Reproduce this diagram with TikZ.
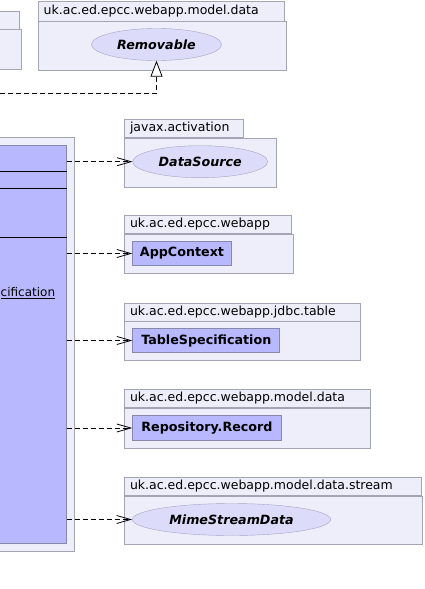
\documentclass[tikz,border=0pt]{standalone}
\usepackage{fontspec}
\setmainfont{DejaVu Sans}
\usepackage{tikz}
\usetikzlibrary{shapes.geometric,arrows.meta,positioning}

\definecolor{pkgfill}{HTML}{EEEEFB}
\definecolor{pkgline}{HTML}{A4A4B4}
\definecolor{clsfill}{HTML}{B8B8FF}
\definecolor{clsline}{HTML}{8888AC}
\definecolor{ifcfill}{HTML}{DCDCFA}
\definecolor{ifcline}{HTML}{A4A4C4}

\begin{document}
\begin{tikzpicture}[x=1pt, y=-1pt,
      pkgtab/.style  = {rectangle, draw=pkgline, fill=pkgfill, anchor=north west,
                        minimum height=18pt, inner xsep=5.5pt, inner ysep=0pt,
                        align=left, font=\fontsize{12.5}{14}\selectfont},
      pkgbody/.style = {rectangle, draw=pkgline, fill=pkgfill, anchor=north west,
                        inner sep=0pt},
      cls/.style     = {rectangle, draw=clsline, fill=clsfill, line width=1pt,
                        minimum height=23.4pt, inner sep=0pt,
                        font=\fontsize{12.7}{14}\selectfont\bfseries},
      ifc/.style     = {ellipse, draw=ifcline, fill=ifcfill, minimum height=32pt,
                        inner sep=0pt, font=\fontsize{12.7}{14}\selectfont\bfseries\itshape},
      attr/.style    = {anchor=base west, inner sep=0pt,
                        font=\fontsize{12}{14}\selectfont},
      sepline/.style = {black, line width=0.9pt},
      dep/.style     = {dash pattern=on 5pt off 3pt, line width=0.8pt,
                        -{Straight Barb[length=14pt,width=8pt]}},
      realize/.style = {dash pattern=on 5pt off 3pt, line width=0.8pt,
                        -{Triangle[open,length=16pt,width=12pt,fill=white]}}
    ]
    \useasboundingbox (0,0) rectangle (424,589);
    \clip (0,0) rectangle (424,589);

    % packages on the top row
    \node[pkgtab, minimum width=29pt, text width=18pt]   (lefttab)  at (-10,11) {};
    \node[pkgbody, minimum width=30.7pt, minimum height=40pt] (leftbody) at (lefttab.south west) {};

    \node[pkgtab, minimum height=19.7pt, text width=235pt] (remtab) at (38,1) {uk.ac.ed.epcc.webapp.model.data};
    \node[pkgbody, minimum width=247.7pt, minimum height=48.6pt] (rembody) at (remtab.south west) {};
    \node[ifc, minimum width=130pt] (remov) at (156.5,44.5) {Removable};

    % the class and its package
    \node[pkgbody, anchor=north east, minimum width=84.3pt, minimum height=414.3pt] (clspkg) at (74.3,136.7) {};
    \node[cls, anchor=north east, minimum width=76.7pt, minimum height=398.3pt] (main) at (66.7,145) {};
    \foreach \sy in {171.3,188.3,237.3}
      \draw[sepline] (main.west |- 0,\sy) -- (main.east |- 0,\sy);
    \node[attr] (tblattr) at (0.5,296.7) {\underline{cification}};

    % packages on the right
    \node[pkgtab, text width=107.4pt] (acttab) at (124.3,119.3) {javax.activation};
    \node[pkgbody, minimum width=151.4pt, minimum height=49.3pt] (actbody) at (acttab.south west) {};
    \node[ifc, minimum width=135pt] (dsrc) at (200.2,161.7) {DataSource};

    \node[pkgtab, text width=155.4pt] (apptab) at (124.3,215.3) {uk.ac.ed.epcc.webapp};
    \node[pkgbody, minimum width=168.4pt, minimum height=39pt] (appbody) at (apptab.south west) {};
    \node[cls, anchor=north west, minimum width=98.4pt] (appctx) at (132.3,241.3) {AppContext};

    \node[pkgtab, text width=225pt] (jdbctab) at (124.3,302.7) {uk.ac.ed.epcc.webapp.jdbc.table};
    \node[pkgbody, minimum width=236pt, minimum height=38.6pt] (jdbcbody) at (jdbctab.south west) {};
    \node[cls, anchor=north west, minimum width=147pt] (tblspec) at (132.3,328.3) {TableSpecification};

    \node[pkgtab, text width=235pt] (datatab) at (124.3,389.3) {uk.ac.ed.epcc.webapp.model.data};
    \node[pkgbody, minimum width=246pt, minimum height=40pt] (databody) at (datatab.south west) {};
    \node[cls, anchor=north west, minimum width=148.4pt, minimum height=24.4pt] (reprec) at (132.3,415.3) {Repository.Record};

    \node[pkgtab, text width=285.4pt] (strtab) at (124.3,477.3) {uk.ac.ed.epcc.webapp.model.data.stream};
    \node[pkgbody, minimum width=297.4pt, minimum height=48pt] (strbody) at (strtab.south west) {};
    \node[ifc, minimum width=198.4pt] (mime) at (231.5,519.5) {MimeStreamData};

    % connectors
    \coordinate (impl) at (0,93);
    \draw[realize] (impl) -| (remov);
    \draw[dep] (main.east |- dsrc)    -- (dsrc);
    \draw[dep] (main.east |- appctx)  -- (appctx);
    \draw[dep] (main.east |- tblspec) -- (tblspec);
    \draw[dep] (main.east |- reprec)  -- (reprec);
    \draw[dep] (main.east |- mime)    -- (mime);
  \end{tikzpicture}
\end{document}
